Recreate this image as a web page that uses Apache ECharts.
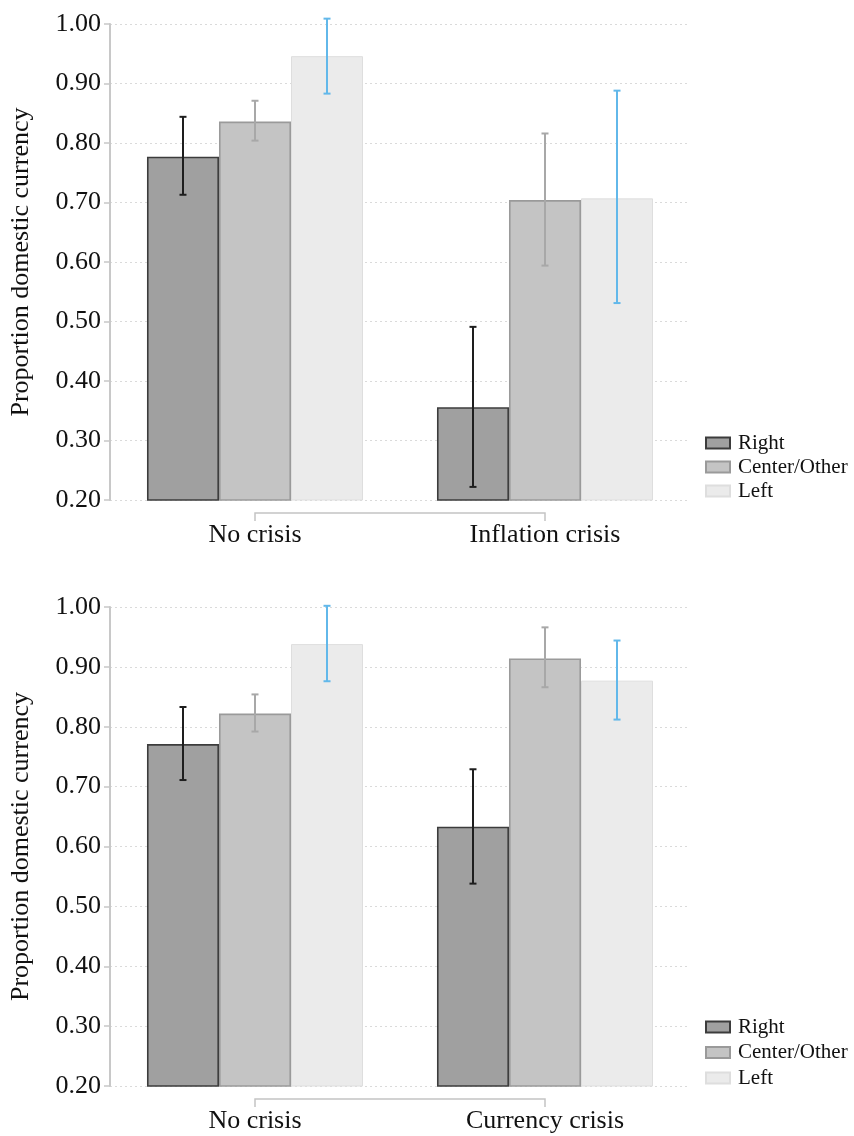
<!DOCTYPE html>
<html>
<head>
<meta charset="utf-8">
<script src="https://cdn.jsdelivr.net/npm/echarts@6/dist/echarts.min.js"></script>
<style>
html,body{margin:0;padding:0;background:#fff;}
#c{width:854px;height:1136px;}
</style>
</head>
<body>
<div id="c"></div>
<script>
// ---- data ----
const seriesNames = ['Right', 'Center/Other', 'Left'];
const categoriesTop = ['No crisis', 'Inflation crisis'];
const categoriesBottom = ['No crisis', 'Currency crisis'];

// top panel (inflation crisis)
const topRight = [0.777, 0.356];
const topRightLo = [0.713, 0.222];
const topRightHi = [0.844, 0.491];
const topCenter = [0.836, 0.704];
const topCenterLo = [0.804, 0.594];
const topCenterHi = [0.871, 0.816];
const topLeft = [0.946, 0.707];
const topLeftLo = [0.883, 0.531];
const topLeftHi = [1.009, 0.888];

// bottom panel (currency crisis)
const botRight = [0.771, 0.633];
const botRightLo = [0.711, 0.538];
const botRightHi = [0.833, 0.729];
const botCenter = [0.822, 0.914];
const botCenterLo = [0.792, 0.866];
const botCenterHi = [0.854, 0.966];
const botLeft = [0.938, 0.877];
const botLeftLo = [0.876, 0.812];
const botLeftHi = [1.002, 0.944];

const yMin = 0.2, yMax = 1.0, yStep = 0.1;

// ---- styles ----
const FONT = '"Liberation Serif", "Times New Roman", serif';
const barFill = ['#a0a0a0', '#c4c4c4', '#ebebeb'];
const barBorder = ['#3c3c3c', '#9a9a9a', '#dedede'];
const errColor = ['#1e1e1e', '#a8a8a8', '#62b8ea'];
const CAT_GAP = 0.255;

const chart = echarts.init(document.getElementById('c'), null, {renderer: 'canvas'});

function yAxisCfg(gridIndex) {
  return {
    type: 'value', gridIndex: gridIndex, min: yMin, max: yMax, interval: yStep,
    name: 'Proportion domestic currency', nameLocation: 'middle', nameGap: 76, nameRotate: 90,
    nameTextStyle: {fontFamily: FONT, fontSize: 26, color: '#111'},
    axisLine: {show: true, lineStyle: {color: '#c8c8c8', width: 2}},
    axisTick: {show: true, length: 6, lineStyle: {color: '#c8c8c8', width: 1.5}},
    axisLabel: {fontFamily: FONT, fontSize: 26, color: '#111', margin: 9,
      formatter: v => v.toFixed(2)},
    splitLine: {show: true, lineStyle: {color: '#dadada', type: [2, 3], width: 1}}
  };
}
function xAxisCfg(gridIndex, cats) {
  return {
    type: 'category', gridIndex: gridIndex, data: cats, boundaryGap: true,
    axisLine: {show: false}, axisTick: {show: false},
    axisLabel: {fontFamily: FONT, fontSize: 26, color: '#111', margin: 20, lineHeight: 30},
    splitLine: {show: false}
  };
}
function barSeries(idx, gridIdx, values) {
  return {
    type: 'bar', name: seriesNames[idx], xAxisIndex: gridIdx, yAxisIndex: gridIdx,
    data: values, barGap: '0%', barCategoryGap: (CAT_GAP * 100) + '%', clip: true,
    itemStyle: {color: barFill[idx], borderColor: barBorder[idx], borderWidth: idx === 2 ? 1 : 1.6},
    emphasis: {disabled: true}, z: 2
  };
}
function errSeries(idx, gridIdx, lo, hi) {
  return {
    type: 'custom', xAxisIndex: gridIdx, yAxisIndex: gridIdx, silent: true, z: 5, clip: false,
    data: lo.map((l, i) => [i, l, hi[i]]),
    renderItem: function (params, api) {
      const ci = api.value(0);
      const band = api.size([1, 0])[0];
      const bw = band * (1 - CAT_GAP) / 3;
      const x = api.coord([ci, yMin])[0] + (idx - 1) * bw;
      const yl = api.coord([ci, api.value(1)])[1];
      const yh = api.coord([ci, api.value(2)])[1];
      const cap = 3.5;
      const st = {stroke: errColor[idx], lineWidth: 2};
      return {type: 'group', children: [
        {type: 'line', shape: {x1: x, y1: yl, x2: x, y2: yh}, style: st},
        {type: 'line', shape: {x1: x - cap, y1: yl, x2: x + cap, y2: yl}, style: st},
        {type: 'line', shape: {x1: x - cap, y1: yh, x2: x + cap, y2: yh}, style: st}
      ]};
    }
  };
}
function bracketSeries(gridIdx) {
  return {
    type: 'custom', xAxisIndex: gridIdx, yAxisIndex: gridIdx, silent: true, clip: false, z: 3,
    data: [[0, yMin]],
    renderItem: function (params, api) {
      const p0 = api.coord([0, yMin]);
      const p1 = api.coord([1, yMin]);
      const y = p0[1] + 13;
      return {type: 'polyline', shape: {points: [[p0[0], y + 8], [p0[0], y], [p1[0], y], [p1[0], y + 8]]},
        style: {stroke: '#c4c4c4', lineWidth: 1.5, fill: null}};
    }
  };
}
function legendCfg(top, gap) {
  return {
    orient: 'vertical', left: 705, top: top, padding: 0, itemGap: gap,
    itemWidth: 24, itemHeight: 11, icon: 'rect',
    data: seriesNames,
    textStyle: {fontFamily: FONT, fontSize: 21, color: '#111', lineHeight: 24, padding: [0, 0, 0, 3]},
    selectedMode: false
  };
}

const option = {
  backgroundColor: '#fff',
  animation: false,
  grid: [
    {left: 110, top: 24, width: 580, height: 476},
    {left: 110, top: 607, width: 580, height: 481}
  ],
  legend: [legendCfg(431, 0), legendCfg(1015, 1.5)],
  xAxis: [xAxisCfg(0, categoriesTop), xAxisCfg(1, categoriesBottom)],
  yAxis: [yAxisCfg(0), yAxisCfg(1)],
  series: [
    barSeries(0, 0, topRight), barSeries(1, 0, topCenter), barSeries(2, 0, topLeft),
    errSeries(0, 0, topRightLo, topRightHi), errSeries(1, 0, topCenterLo, topCenterHi), errSeries(2, 0, topLeftLo, topLeftHi),
    bracketSeries(0),
    barSeries(0, 1, botRight), barSeries(1, 1, botCenter), barSeries(2, 1, botLeft),
    errSeries(0, 1, botRightLo, botRightHi), errSeries(1, 1, botCenterLo, botCenterHi), errSeries(2, 1, botLeftLo, botLeftHi),
    bracketSeries(1)
  ]
};
chart.setOption(option);
</script>
</body>
</html>
